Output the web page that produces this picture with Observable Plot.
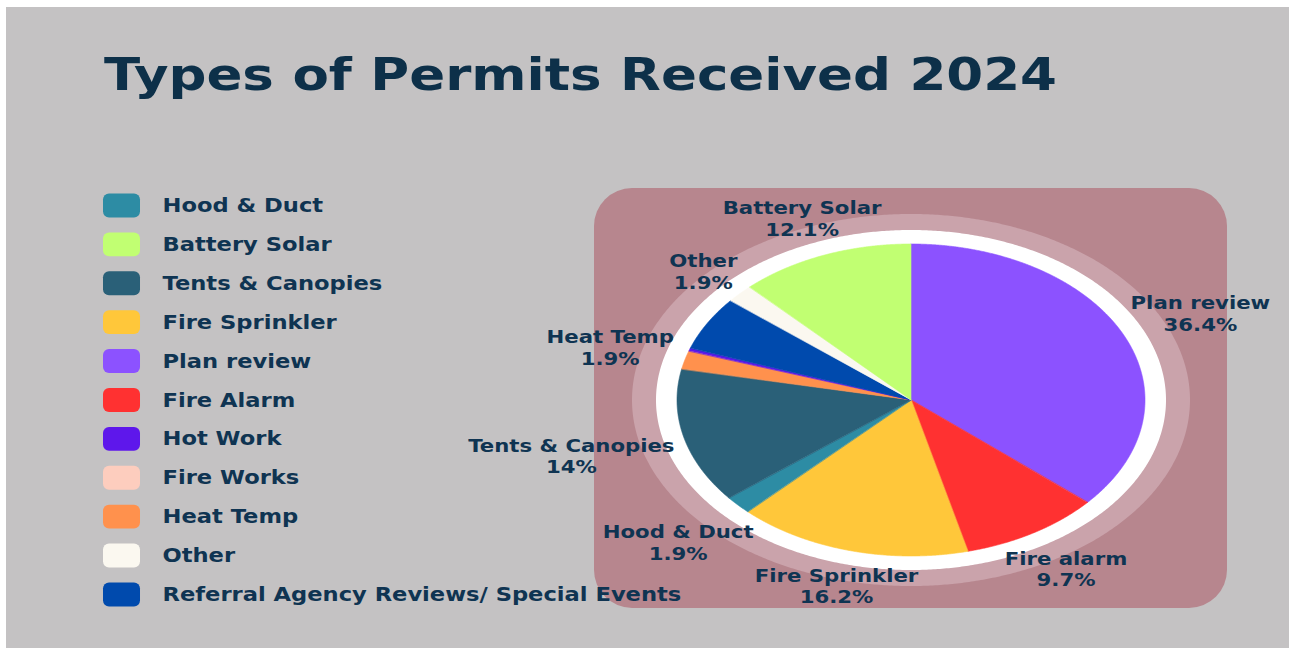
<!DOCTYPE html>
<html>
<head>
<meta charset="utf-8">
<script src="https://cdn.jsdelivr.net/npm/d3@7"></script>
<script src="https://cdn.jsdelivr.net/npm/@observablehq/plot@0.6"></script>
<style>
  html, body { margin: 0; padding: 0; background: #ffffff; }
  #frame { position: absolute; left: 6px; top: 7px; width: 1283px; height: 641px; background: #c4c2c3; overflow: hidden; }
  #title { position: absolute; left: 98px; top: 41px; margin: 0; font-family: "DejaVu Sans", sans-serif; font-weight: bold; font-size: 45px; line-height: normal; color: #0d3049; white-space: nowrap; transform-origin: 0 0; }
  #panel { position: absolute; left: 588px; top: 181px; width: 633px; height: 420px; background: #b7868e; border-radius: 38px; }
  #legend { position: absolute; left: 97px; top: 178.5px; }
  #pie { position: absolute; left: 434px; top: 133px; }
  svg { overflow: visible; }
</style>
</head>
<body>
<div id="frame">
  <div id="title">Types of Permits Received 2024</div>
  <div id="panel"></div>
  <div id="legend"></div>
  <div id="pie"></div>
</div>
<script>
// ---- data ----
const legendOrder = ["Hood & Duct", "Battery Solar", "Tents & Canopies", "Fire Sprinkler", "Plan review", "Fire Alarm", "Hot Work", "Fire Works", "Heat Temp", "Other", "Referral Agency Reviews/ Special Events"];
const legendColors = ["#2d8ca4", "#c1ff72", "#2a6078", "#ffc73a", "#8c52ff", "#ff3131", "#5e17eb", "#fdcdbe", "#ff914d", "#fbf8f0", "#004aad"];

// pie slices, clockwise from 12 o'clock
const pieOrder = ["Plan review", "Fire Alarm", "Fire Sprinkler", "Hood & Duct", "Tents & Canopies", "Heat Temp", "Hot Work", "Fire Works", "Referral Agency Reviews/ Special Events", "Other", "Battery Solar"];
const pieValues = [36.4, 9.7, 16.2, 1.9, 14, 1.9, 0.3, 0, 5.6, 1.9, 12.1];
const pieLabels = ["Plan review", "Fire alarm", "Fire Sprinkler", "Hood & Duct", "Tents & Canopies", "Heat Temp", null, null, null, "Other", "Battery Solar"];

const textColor = "#0f3452";
const font = "DejaVu Sans";

// stretch text horizontally like the reference artwork
function stretchTexts(svg, sx) {
  svg.querySelectorAll("g[aria-label='text'] text").forEach(t => {
    const tr = t.getAttribute("transform") || "";
    t.setAttribute("transform", `${tr} scale(${sx},1)`);
  });
}

// ---- title width fit ----
(function () {
  const t = document.getElementById("title");
  const w = t.getBoundingClientRect().width;
  const target = 953;
  t.style.transform = `scaleX(${target / w})`;
})();

// ---- legend ----
const LW = 640, rowH = 38.9, LH = rowH * legendOrder.length;
const legendPlot = Plot.plot({
  width: LW, height: LH, margin: 0,
  x: {domain: [0, LW], range: [0, LW], axis: null},
  y: {domain: legendOrder, axis: null, padding: 0, type: "band", round: false},
  color: {domain: legendOrder, range: legendColors},
  style: {fontFamily: font, background: "transparent", overflow: "visible"},
  marks: [
    Plot.barX(legendOrder, {x1: 0, x2: 37, y: d => d, fill: d => d, rx: 6, insetTop: 7.5, insetBottom: 7.5}),
    Plot.text(legendOrder, {x: 59, y: d => d, text: d => d, textAnchor: "start", fontSize: 19, fontWeight: "bold", fill: textColor})
  ]
});
stretchTexts(legendPlot, 1.19);
document.getElementById("legend").appendChild(legendPlot);

// ---- pie ----
const W = 849, H = 508, k = 1.5;          // horizontal stretch of the reference
const cxPx = 471, cyPx = 260;
const R = 156, Rwhite = 170, Rpink = 186;
const labelStretch = 1.18;

const slices = pieOrder.map((name, i) => ({name, value: pieValues[i], label: pieLabels[i]}));
const arcs = d3.pie().sort(null).value(d => d.value).startAngle(0).endAngle(2 * Math.PI)(slices);

const step = Math.PI / 720;
const wedgePts = [];
for (const a of arcs) {
  if (a.endAngle - a.startAngle <= 0) continue;
  const n = Math.max(2, Math.ceil((a.endAngle - a.startAngle) / step));
  for (let j = 0; j <= n; j++) {
    const t = a.startAngle + (a.endAngle - a.startAngle) * j / n;
    wedgePts.push({name: a.data.name, x: R * Math.sin(t), y: R * Math.cos(t)});
  }
}
function ring(r, id) {
  return d3.range(0, 721).map(j => {
    const t = j * Math.PI / 360;
    return {id, x: r * Math.sin(t), y: r * Math.cos(t)};
  });
}

const ctx = document.createElement("canvas").getContext("2d");
ctx.font = `bold 18px "${font}"`;
const labels = arcs.filter(a => a.data.label && a.data.value > 0).map(a => {
  const pct = `${a.data.value}%`;
  const text = `${a.data.label}\n${pct}`;
  const wpx = labelStretch * Math.max(ctx.measureText(a.data.label).width, ctx.measureText(pct).width);
  const hw = wpx / k / 2, hh = 15;
  const t = (a.startAngle + a.endAngle) / 2;
  const r = 163 + Math.abs(Math.sin(t)) * hw + Math.abs(Math.cos(t)) * hh;
  return {text, x: r * Math.sin(t), y: r * Math.cos(t)};
});

const piePlot = Plot.plot({
  width: W, height: H, margin: 0,
  x: {domain: [-cxPx / k, (W - cxPx) / k], range: [0, W], axis: null},
  y: {domain: [-(H - cyPx), cyPx], range: [H, 0], axis: null},
  color: {domain: legendOrder, range: legendColors},
  style: {fontFamily: font, background: "transparent", overflow: "visible"},
  marks: [
    Plot.area(ring(Rpink, "pink"), {x1: "x", y1: "y", x2: 0, y2: 0, fill: "#caa3ab"}),
    Plot.area(ring(Rwhite, "white"), {x1: "x", y1: "y", x2: 0, y2: 0, fill: "#ffffff"}),
    Plot.area(wedgePts, {x1: "x", y1: "y", x2: 0, y2: 0, z: "name", fill: "name", stroke: "name", strokeWidth: 0.6}),
    Plot.text(labels, {x: "x", y: "y", text: "text", fontSize: 18, fontWeight: "bold", fill: textColor, lineHeight: 1.2})
  ]
});
stretchTexts(piePlot, labelStretch);
document.getElementById("pie").appendChild(piePlot);
</script>
</body>
</html>
